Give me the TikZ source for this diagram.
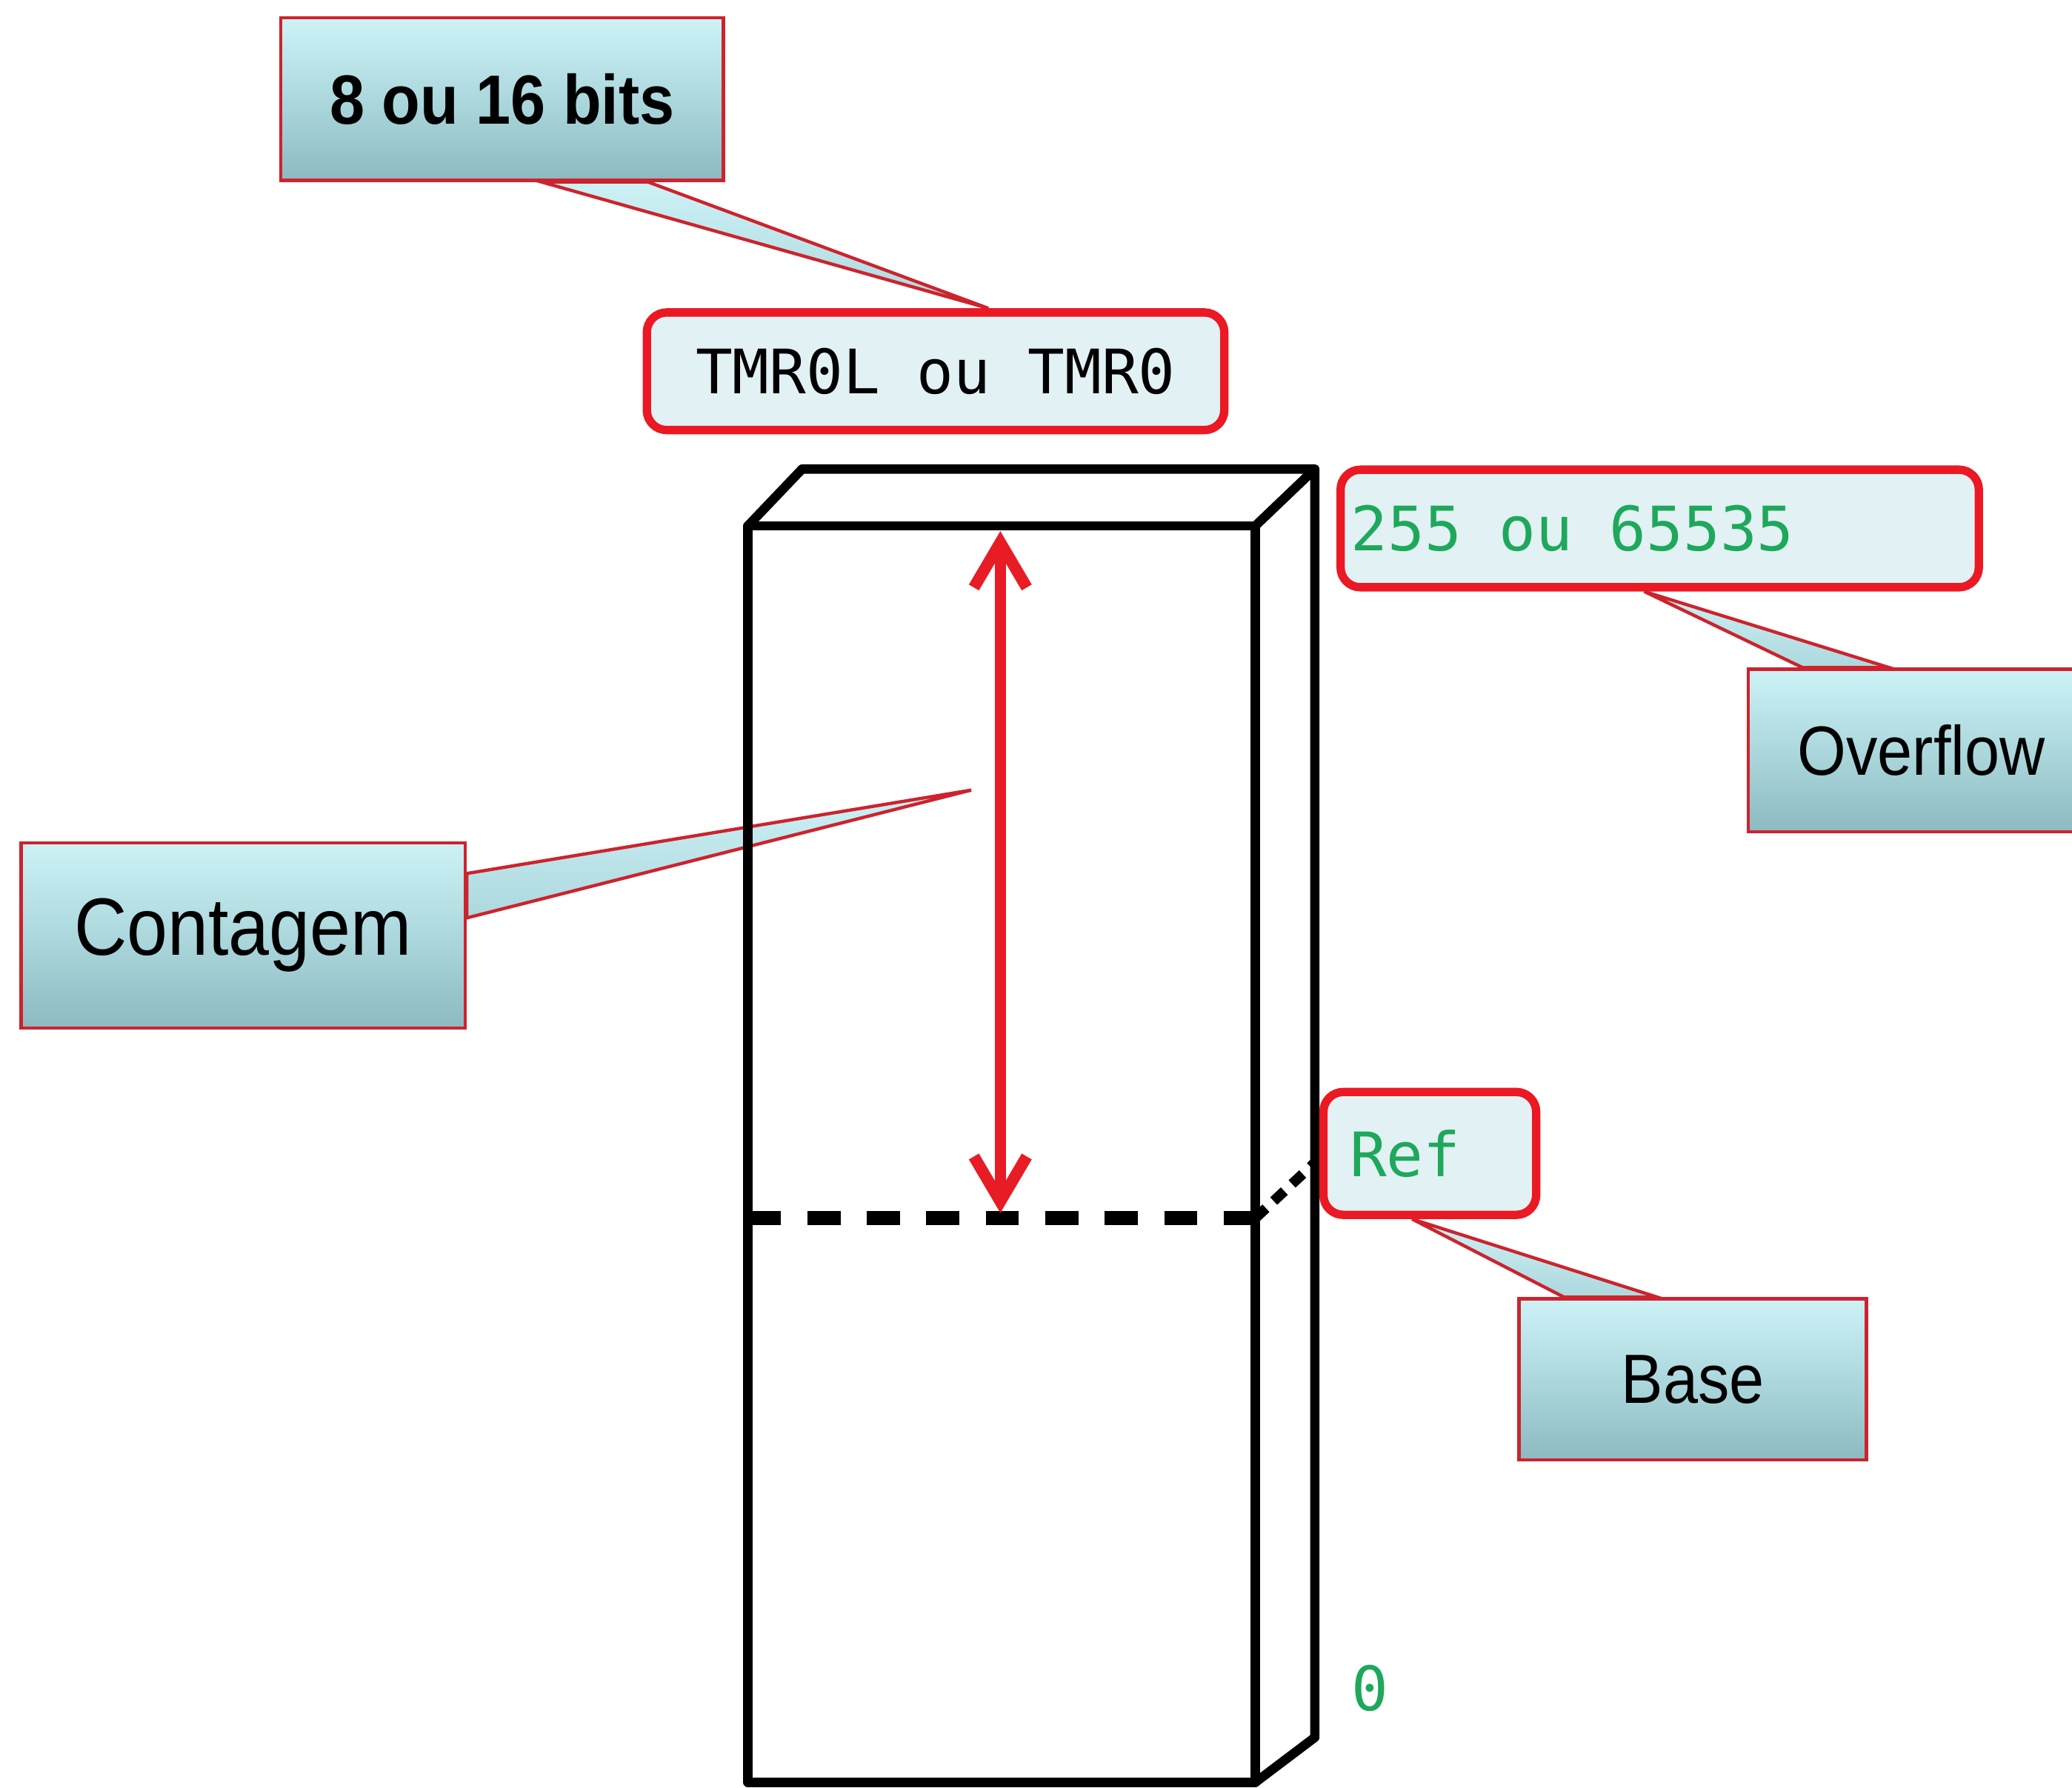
\documentclass[tikz,border=0pt]{standalone}
\usepackage{fontspec}
\usepackage{tikz}
\usetikzlibrary{arrows.meta, calc, backgrounds}
\newfontfamily\callfont[FakeStretch=0.9]{Liberation Sans}
\newfontfamily\monofont{DejaVu Sans Mono}
\definecolor{callred}{RGB}{205,35,45}
\definecolor{boxred}{RGB}{235,25,35}
\definecolor{calltop}{RGB}{205,242,246}
\definecolor{callmid}{RGB}{172,216,221}
\definecolor{callbot}{RGB}{140,186,192}
\definecolor{valfill}{RGB}{226,241,243}
\definecolor{valgreen}{RGB}{30,168,92}
\definecolor{arrowred}{RGB}{232,28,36}
\tikzset{callout/.style={draw=callred, line width=0.7pt, top color=calltop, bottom color=callbot, middle color=callmid, inner sep=0pt, font=\callfont\fontsize{15}{18}\selectfont},
  pointer/.style={draw=callred, line width=0.7pt, top color=calltop, bottom color=callmid},
  valbox/.style={draw=boxred, line width=1.8pt, fill=valfill, rounded corners=1.5mm, minimum height=8.9mm, font=\monofont\fontsize{13.2}{15}\selectfont},
  block/.style={line width=2pt, line join=round},
  refline/.style={line width=3pt, dash pattern=on 2.5mm off 2mm},
  countspan/.style={arrowred, line width=2.5pt, {Straight Barb[length=3.4mm,width=4mm]}-{Straight Barb[length=3.4mm,width=4mm]}}}

\begin{document}
\begin{tikzpicture}[x=0.1mm, y=-0.1mm]
    \useasboundingbox (0,0) rectangle (1568,1353);
    \coordinate (ftl) at (566,398);
    \coordinate (ftr) at (950,398);
    \coordinate (fbr) at (950,1349);
    \coordinate (btl) at (607,355);
    \coordinate (btr) at (995,355);
    \coordinate (bbr) at (995,1315);
    \coordinate (rl) at (566,922);
    \coordinate (rr) at (950,922);
    \coordinate (rb) at (995,880);
    \coordinate (ct) at (757,402);
    \coordinate (cb) at (757,918);
    \coordinate (cnt) at (735,598);
    \draw[block] (ftl) rectangle (fbr);
    \draw[block] (ftl) -- (btl) -- (btr) -- (ftr);
    \draw[block] (btr) -- (bbr) -- (fbr);
    \draw[refline] (rl) -- (rr);
    \draw[refline, line width=2.2pt, dash pattern=on 1.1mm off 0.8mm] (rr) -- (rb);
    \draw[countspan] (ct) -- (cb);
    \node[callout, minimum width=3.35cm, minimum height=1.23cm, font=\callfont\bfseries\fontsize{15}{18}\selectfont] (bits) at (380,75) {8 ou 16 bits};
    \node[valbox, minimum width=4.37cm] (tmr) at (708,281) {TMR0L ou TMR0};
    \node[valbox, inner xsep=0.8mm, text=valgreen] (max) at (1256,400) {\makebox[4.67cm][l]{255 ou 65535}};
    \node[callout, minimum width=2.62cm, minimum height=1.23cm] (over) at (1454,568) {Overflow};
    \node[callout, minimum width=3.36cm, minimum height=1.4cm, font=\callfont\fontsize{17.5}{20}\selectfont] (cont) at (184,708) {Contagem};
    \node[valbox, minimum height=0.93cm, inner xsep=2mm, text=valgreen] (ref) at (1082,873) {\makebox[1.21cm][l]{Ref}};
    \node[callout, minimum width=2.63cm, minimum height=1.22cm] (base) at (1281,1044) {Base};
    \node[text=valgreen, font=\monofont\fontsize{13.2}{15}\selectfont] (zero) at (1037,1278) {0};
    \begin{scope}[on background layer]
        \path[pointer] ($(bits.south west)!0.588!(bits.south east)$) -- ($(tmr.north west)!0.59!(tmr.north east)$) -- ($(bits.south west)!0.827!(bits.south east)$) -- cycle;
        \path[pointer] ($(cont.north east)!0.171!(cont.south east)$) -- (cnt) -- ($(cont.north east)!0.407!(cont.south east)$) -- cycle;
        \path[pointer] ($(over.north west)!0.16!(over.north east)$) -- ($(max.south west)!0.476!(max.south east)$) -- ($(over.north west)!0.408!(over.north east)$) -- cycle;
        \path[pointer] ($(base.north west)!0.133!(base.north east)$) -- ($(ref.south west)!0.42!(ref.south east)$) -- ($(base.north west)!0.399!(base.north east)$) -- cycle;
    \end{scope}
\end{tikzpicture}
\end{document}
